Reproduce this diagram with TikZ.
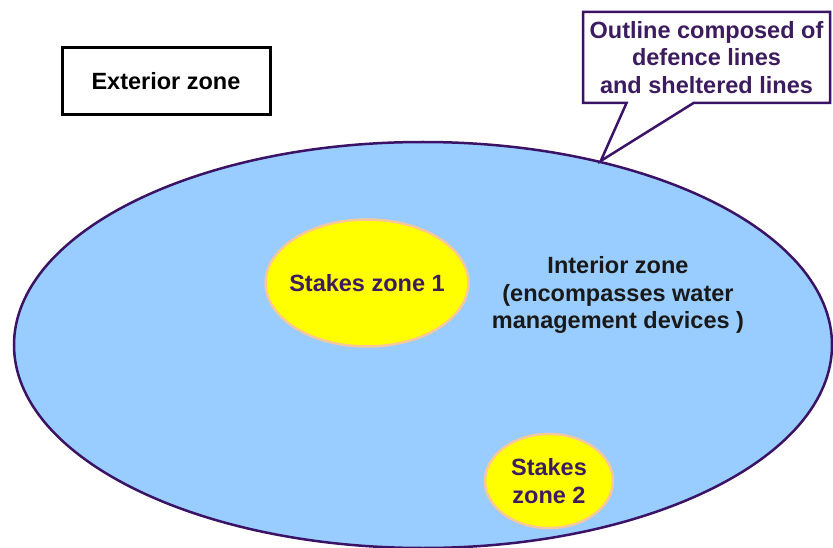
\documentclass[tikz,border=0pt]{standalone}
\usepackage{fontspec}
\setmainfont{Liberation Sans}
\usetikzlibrary{shapes.geometric,shapes.callouts}
\definecolor{OutlinePurple}{HTML}{3A1266}
\definecolor{ZoneBlue}{HTML}{99CCFF}
\definecolor{StakeYellow}{HTML}{FFFF00}
\definecolor{StakeRim}{HTML}{F8C89A}
\definecolor{TextPurple}{HTML}{3C1C5E}

\begin{document}
\begin{tikzpicture}[x=1pt, y=-1pt,
    zone/.style={ellipse, draw=OutlinePurple, fill=ZoneBlue, line width=2.5pt,
                 inner sep=0pt},
    stakes/.style={ellipse, draw=StakeRim, fill=StakeYellow, line width=2.5pt,
                   inner sep=-6pt, text=TextPurple, align=center,
                   font=\fontsize{23.5}{28}\selectfont\bfseries},
    txt/.style={align=center, font=\fontsize{23.5}{27.5}\selectfont\bfseries},
  ]
    \useasboundingbox (0,0) rectangle (833,548);
    \node[zone, minimum width=818pt, minimum height=406pt] (interior) at (423,345) {};
    \node[txt, text=black!90] (intlabel) at (618,295)
        {Interior zone\\(encompasses water\\management devices )};
    \node[stakes, minimum width=202pt, minimum height=127pt] (stakes1) at (367,283) {Stakes zone 1};
    \node[stakes, minimum width=128pt, minimum height=94pt] (stakes2) at (549,481) {Stakes\\zone 2};
    \node[txt, draw=black, line width=3pt, minimum width=208pt, minimum height=67pt]
        (exterior) at (166,81.5) {Exterior zone};
    % callout pointing at the outline
    \node[txt, rectangle callout, draw=OutlinePurple, fill=white, text=TextPurple,
          line width=2.5pt, minimum width=247pt, minimum height=91pt,
          callout absolute pointer={(interior.46)}, callout pointer width=67pt]
        (outline) at (706.5,57.5) {Outline composed of\\defence lines\\and sheltered lines};
  \end{tikzpicture}
\end{document}
